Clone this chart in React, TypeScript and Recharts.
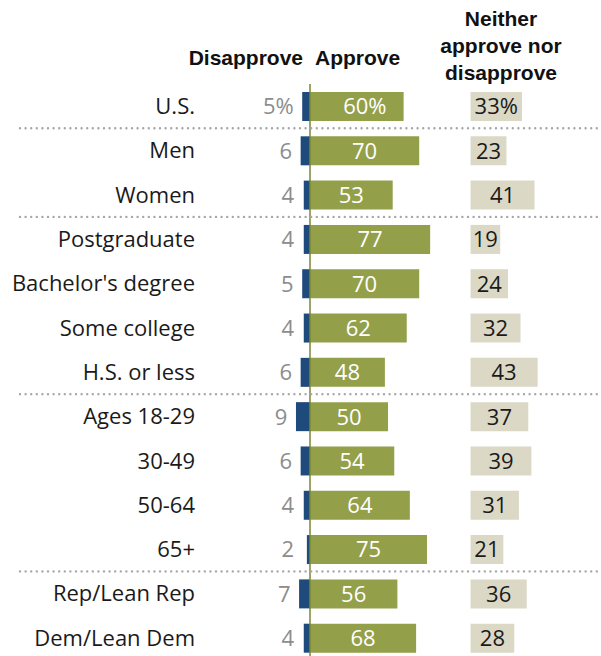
import React from "react";
import { BarChart, Bar, XAxis, YAxis, ReferenceLine, LabelList } from "recharts";

const categories = [
  "U.S.",
  "Men",
  "Women",
  "Postgraduate",
  "Bachelor's degree",
  "Some college",
  "H.S. or less",
  "Ages 18-29",
  "30-49",
  "50-64",
  "65+",
  "Rep/Lean Rep",
  "Dem/Lean Dem"
];
const disapprove = [5, 6, 4, 4, 5, 4, 6, 9, 6, 4, 2, 7, 4];
const approve = [60, 70, 53, 77, 70, 62, 48, 50, 54, 64, 75, 56, 68];
const neither = [33, 23, 41, 19, 24, 32, 43, 37, 39, 31, 21, 36, 28];
// a dotted rule is drawn above each of these rows
const groupStarts = ["Men", "Postgraduate", "Ages 18-29", "Rep/Lean Rep"];

const rows = categories.map((name, i) => ({
  name,
  disapprove: disapprove[i],
  approve: approve[i],
  neither: neither[i]
}));

const NAVY = "#1f4a7c";
const OLIVE = "#949f4a";
const BEIGE = "#dbd8c6";
const AXIS = "#7a8735";
const FONT = "'Open Sans', Arial, sans-serif";
const HEAD_FONT = "'Liberation Sans', Arial, sans-serif";
const FS = 22;

// both numeric axes span the same number of points, so bars share one scale
const mainDomain = [-70.5, 186.5];
const neitherDomain = [-173.4, 83.6];

function CategoryTick(props: any) {
  const { x, y, payload } = props;
  const half = payload.offset || 22.15;
  return (
    <g>
      {groupStarts.includes(payload.value) && (
        <line
          x1={20}
          x2={601}
          y1={y - half}
          y2={y - half}
          stroke="#a6a6a6"
          strokeWidth={2.4}
          strokeDasharray="0 5.6"
          strokeLinecap="round"
        />
      )}
      <text x={x} y={y} dy="0.36em" textAnchor="end" fontSize={FS} fill="#1a1a1a" fontFamily={FONT}>
        {payload.value}
      </text>
    </g>
  );
}

function DisapproveLabel(props: any) {
  const { x, y, width, height, index } = props;
  const left = Math.min(x, x + width);
  const zero = Math.max(x, x + width);
  const end = Math.min(zero - 16, left - 8.5);
  return (
    <text x={end} y={y + height / 2} dy="0.36em" textAnchor="end" fontSize={FS} fill="#8c8c8c" fontFamily={FONT}>
      {disapprove[index]}
      {index === 0 ? "%" : ""}
    </text>
  );
}

function ApproveLabel(props: any) {
  const { x, y, width, height, index } = props;
  return (
    <text
      x={x + width / 2 + (index === 0 ? 8 : 0)}
      y={y + height / 2}
      dy="0.36em"
      textAnchor="middle"
      fontSize={FS}
      fill="#ffffff"
      fontFamily={FONT}
    >
      {approve[index]}
      {index === 0 ? "%" : ""}
    </text>
  );
}

function NeitherLabel(props: any) {
  const { x, y, width, height, index } = props;
  return (
    <text x={x + width / 2} y={y + height / 2} dy="0.36em" textAnchor="middle" fontSize={FS} fill="#1a1a1a" fontFamily={FONT}>
      {neither[index]}
      {index === 0 ? "%" : ""}
    </text>
  );
}

const headStyle: React.CSSProperties = {
  position: "absolute",
  fontFamily: HEAD_FONT,
  fontWeight: "bold",
  fontSize: 21,
  color: "#111",
  lineHeight: "27px",
  whiteSpace: "nowrap"
};

export default function App() {
  return (
    <div
      style={{
        position: "absolute",
        left: 0,
        top: 0,
        width: 601,
        height: 656,
        overflow: "hidden",
        background: "#fff"
      }}
    >
      <div style={{ ...headStyle, right: 298, top: 44 }}>Disapprove</div>
      <div style={{ ...headStyle, left: 315, top: 44 }}>Approve</div>
      <div style={{ ...headStyle, left: 421, top: 5, width: 160, textAlign: "center" }}>
        Neither
        <br />
        approve nor
        <br />
        disapprove
      </div>
      <BarChart
        width={601}
        height={661}
        data={rows}
        layout="vertical"
        margin={{ top: 84, right: 0, bottom: 1, left: 0 }}
        barCategoryGap={0}
      >
        <XAxis xAxisId="main" type="number" domain={mainDomain} allowDataOverflow hide />
        <XAxis xAxisId="nei" type="number" domain={neitherDomain} allowDataOverflow hide />
        <YAxis
          yAxisId="cat"
          type="category"
          dataKey="name"
          width={200}
          axisLine={false}
          tickLine={false}
          tickSize={0}
          tickMargin={5}
          interval={0}
          tick={<CategoryTick />}
        />
        <YAxis yAxisId="catA" type="category" dataKey="name" hide />
        <YAxis yAxisId="catN" type="category" dataKey="name" hide />
        <Bar
          xAxisId="main"
          yAxisId="cat"
          dataKey={(r: any) => -r.disapprove}
          fill={NAVY}
          barSize={29}
          isAnimationActive={false}
        >
          <LabelList content={<DisapproveLabel />} />
        </Bar>
        <Bar xAxisId="main" yAxisId="catA" dataKey="approve" fill={OLIVE} barSize={29} isAnimationActive={false}>
          <LabelList content={<ApproveLabel />} />
        </Bar>
        <Bar xAxisId="nei" yAxisId="catN" dataKey="neither" fill={BEIGE} barSize={29} isAnimationActive={false}>
          <LabelList content={<NeitherLabel />} />
        </Bar>
        <ReferenceLine xAxisId="main" yAxisId="cat" x={0} stroke={AXIS} strokeWidth={1.5} />
      </BarChart>
    </div>
  );
}
